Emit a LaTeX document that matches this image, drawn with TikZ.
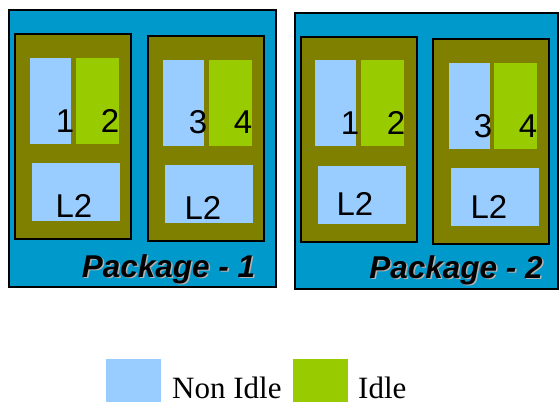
\documentclass[tikz,border=0pt]{standalone}
\usepackage{fontspec}
\setmainfont{Liberation Serif}
\newfontfamily\arialf{Liberation Sans}
\definecolor{pkgblue}{HTML}{0099CC}
\definecolor{coreolive}{HTML}{808000}
\definecolor{nonidle}{HTML}{99CCFF}
\definecolor{idlegreen}{HTML}{99CC00}
\begin{document}
\begin{tikzpicture}[x=1pt,y=-1pt,
  pkg/.style={fill=pkgblue,draw=black,line width=2pt},
  core/.style={fill=coreolive,draw=black,line width=2pt},
  busy/.style={fill=nonidle},
  idle/.style={fill=idlegreen},
  num/.style={anchor=base,inner sep=0pt,font=\arialf\fontsize{33}{33}\selectfont},
  pkglabel/.style={anchor=base,inner sep=0pt,font=\arialf\bfseries\itshape\fontsize{31.5}{31.5}\selectfont},
  legtext/.style={anchor=base west,inner sep=0pt,font=\fontsize{31}{31}\selectfont}]
\useasboundingbox (0,0) rectangle (560,402);
% Package 1
\draw[pkg] (9,10) rectangle (276,287);
\draw[core] (15,34) rectangle (131,239);
\fill[busy] (30,58) rectangle (71,144);
\fill[idle] (76,58) rectangle (119,144);
\fill[busy] (32,163) rectangle (120,221);
\node[num] (p1c1) at (65,132) {1};
\node[num] (p1c2) at (110,132) {2};
\node[num] (p1l2a) at (74,217) {L2};
\draw[core] (148,36) rectangle (264,241);
\fill[busy] (163,60) rectangle (204,146);
\fill[idle] (209,60) rectangle (252,146);
\fill[busy] (165,165) rectangle (253,223);
\node[num] (p1c3) at (198,133) {3};
\node[num] (p1c4) at (243,133) {4};
\node[num] (p1l2b) at (203,219) {L2};
\node[pkglabel,text=gray!60] (p1sh) at (170,278.5) {Package - 1};
\node[pkglabel] (p1lab) at (168.5,277) {Package - 1};
% Package 2
\draw[pkg] (295,13) rectangle (558,289);
\draw[core] (301,37) rectangle (417,242);
\fill[busy] (315,60) rectangle (356,146);
\fill[idle] (361,60) rectangle (404,146);
\fill[busy] (318,166) rectangle (406,224);
\node[num] (p2c1) at (350,134) {1};
\node[num] (p2c2) at (396,134) {2};
\node[num] (p2l2a) at (355,215) {L2};
\draw[core] (433,39) rectangle (549,244);
\fill[busy] (449,63) rectangle (490,149);
\fill[idle] (494,63) rectangle (537,149);
\fill[busy] (451,168) rectangle (539,226);
\node[num] (p2c3) at (483,137) {3};
\node[num] (p2c4) at (528,137) {4};
\node[num] (p2l2b) at (489,218) {L2};
\node[pkglabel,text=gray!60] (p2sh) at (457.5,279.5) {Package - 2};
\node[pkglabel] (p2lab) at (456,278) {Package - 2};
% Legend
\fill[busy] (106,359) rectangle (161,402);
\node[legtext] (lnon) at (172,398) {Non Idle};
\fill[idle] (293,359) rectangle (348,402);
\node[legtext] (lidle) at (358,398) {Idle};
\end{tikzpicture}
\end{document}
